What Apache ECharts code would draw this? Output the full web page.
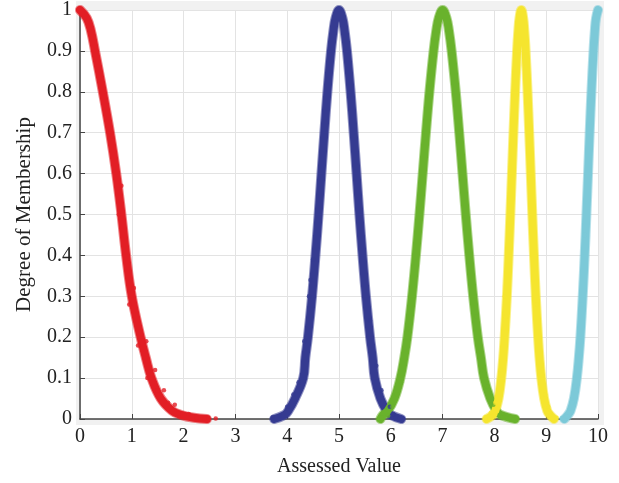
<!DOCTYPE html>
<html>
<head>
<meta charset="utf-8">
<script src="https://cdn.jsdelivr.net/npm/echarts@6/dist/echarts.min.js"></script>
<style>html,body{margin:0;padding:0;background:#fff}#c{width:619px;height:483px}</style>
</head>
<body>
<div id="c"></div>
<script>
// ---- data ----
var xTicks = [0,1,2,3,4,5,6,7,8,9,10];
var yTicks = [0,0.1,0.2,0.3,0.4,0.5,0.6,0.7,0.8,0.9,1];
var xLabel = 'Assessed Value';
var yLabel = 'Degree of Membership';

var redCurve = [[0,1],[0.13,0.98],[0.21,0.95],[0.29,0.9],[0.44,0.8],[0.58,0.7],[0.7,0.6],[0.8,0.5],[0.89,0.4],[1.0,0.3],[1.17,0.2],[1.27,0.15],[1.38,0.1],[1.56,0.05],[1.78,0.02],[1.95,0.01],[2.2,0.003],[2.45,0]];
var blueCurve = [[3.75,0],[3.95,0.01],[4.02,0.02],[4.15,0.05],[4.31,0.1],[4.35,0.15],[4.40,0.2],[4.48,0.3],[4.546,0.4],[4.606,0.5],[4.661,0.6],[4.717,0.7],[4.776,0.8],[4.846,0.9],[4.893,0.95],[4.933,0.98],[5,1],[5.067,0.98],[5.107,0.95],[5.154,0.9],[5.224,0.8],[5.283,0.7],[5.339,0.6],[5.394,0.5],[5.454,0.4],[5.52,0.3],[5.6,0.2],[5.65,0.15],[5.69,0.1],[5.8,0.05],[5.92,0.02],[6.0,0.01],[6.2,0]];
var greenCurve = [[5.8,0],[5.85,0.01],[5.94,0.02],[6.07,0.05],[6.185,0.1],[6.26,0.15],[6.32,0.2],[6.41,0.3],[6.485,0.4],[6.553,0.5],[6.616,0.6],[6.679,0.7],[6.746,0.8],[6.826,0.9],[6.878,0.95],[6.924,0.98],[7,1],[7.076,0.98],[7.122,0.95],[7.174,0.9],[7.254,0.8],[7.321,0.7],[7.384,0.6],[7.447,0.5],[7.515,0.4],[7.59,0.3],[7.68,0.2],[7.74,0.15],[7.8,0.1],[7.92,0.05],[8.04,0.02],[8.12,0.01],[8.4,0]];
var yellowCurve = [[7.85,0],[7.97,0.01],[8.017,0.02],[8.08,0.05],[8.134,0.1],[8.17,0.15],[8.197,0.2],[8.241,0.3],[8.276,0.4],[8.308,0.5],[8.338,0.6],[8.368,0.7],[8.40,0.8],[8.437,0.9],[8.462,0.95],[8.484,0.98],[8.52,1],[8.556,0.98],[8.578,0.95],[8.603,0.9],[8.64,0.8],[8.672,0.7],[8.702,0.6],[8.732,0.5],[8.764,0.4],[8.799,0.3],[8.843,0.2],[8.87,0.15],[8.906,0.1],[8.96,0.05],[9.02,0.02],[9.07,0.01],[9.15,0]];
var cyanCurve = [[9.35,0],[9.42,0.01],[9.47,0.02],[9.535,0.05],[9.592,0.1],[9.63,0.15],[9.66,0.2],[9.705,0.3],[9.743,0.4],[9.776,0.5],[9.808,0.6],[9.839,0.7],[9.873,0.8],[9.913,0.9],[9.939,0.95],[9.962,0.98],[10,1]];

var redDots = [[0.75,0.5],[0.95,0.28],[1.04,0.32],[1.3,0.1],[1.28,0.19],[1.45,0.12],[1.5,0.07],[1.62,0.07],[1.7,0.04],[1.83,0.035],[1.9,0.013],[2.1,0.012],[2.25,0.004],[2.4,0.002],[2.62,0.001],[1.12,0.18],[0.8,0.57],[0.62,0.69]];
var blueDots = [[3.72,0.004],[3.85,0.008],[4.0,0.03],[4.12,0.06],[4.22,0.09],[4.33,0.19],[4.42,0.3],[4.5,0.39],[4.45,0.34],[5.6,0.24],[5.72,0.13],[5.82,0.07],[5.98,0.03],[6.1,0.004],[6.18,0.002],[6.05,0.012]];
var greenDots = [[5.82,0.003],[5.95,0.008],[6.03,0.03],[6.12,0.06],[6.2,0.09],[6.33,0.22],[7.65,0.25],[7.76,0.12],[7.86,0.08],[7.98,0.035],[8.2,0.005],[8.3,0.004],[8.42,0.003],[8.1,0.01]];
var yellowDots = [[7.83,0.004],[7.93,0.015],[8.02,0.04],[8.12,0.12],[8.2,0.3],[8.22,0.25],[8.82,0.28],[8.92,0.12],[8.98,0.06],[9.08,0.015],[9.2,0.003],[9.04,0.03]];
var cyanDots = [[9.3,0.002],[9.4,0.006],[9.5,0.04],[9.56,0.08],[9.62,0.18],[9.68,0.28],[9.74,0.45],[9.45,0.015]];

var colors = {red:'#e21e25', blue:'#353b91', green:'#69b22c', yellow:'#f5e52e', cyan:'#7cc9d8'};

function haloSeries(data, color){
  return {type:'line', data:data, smooth:0.4, showSymbol:false, symbol:'none',
    lineStyle:{color:color, width:10, opacity:0.55, cap:'round', join:'round'}, z:1, silent:true};
}
function curveSeries(data, color){
  return {type:'line', data:data, smooth:0.4, showSymbol:false, symbol:'none',
    lineStyle:{color:color, width:8, cap:'round', join:'round'}, z:2, silent:true};
}
function dotSeries(data, color){
  return {type:'scatter', data:data, symbolSize:4.5, itemStyle:{color:color}, z:3, silent:true};
}

var chart = echarts.init(document.getElementById('c'), null, {renderer:'canvas'});
var fontFam = '"Liberation Serif", "DejaVu Serif", serif';
var all = [['red',redCurve,redDots],['blue',blueCurve,blueDots],['green',greenCurve,greenDots],['yellow',yellowCurve,yellowDots],['cyan',cyanCurve,cyanDots]];
var series = [];
all.forEach(function(s){
  series.push(haloSeries(s[1], colors[s[0]]));
  series.push(curveSeries(s[1], colors[s[0]]));
  series.push(dotSeries(s[2], colors[s[0]]));
});
chart.setOption({
  animation:false,
  backgroundColor:'#ffffff',
  graphic:[{type:'rect', z:-10, shape:{x:76, y:1, width:528, height:424}, style:{fill:'#f1f1f1'}}],
  grid:{left:80, right:21, top:8, bottom:64, show:true, backgroundColor:'#ffffff', borderWidth:0},
  xAxis:{type:'value', min:0, max:10, interval:1,
    name:xLabel, nameLocation:'middle', nameGap:38,
    nameTextStyle:{fontFamily:fontFam, fontSize:20, color:'#222'},
    axisLine:{show:true, onZero:false, lineStyle:{color:'#444', width:1.5}},
    axisTick:{show:true, inside:true, length:5, lineStyle:{color:'#444'}},
    axisLabel:{fontFamily:fontFam, fontSize:20, color:'#222', margin:8,
      formatter:function(v){return xTicks.indexOf(v)>=0 ? String(v) : '';}},
    splitLine:{show:true, lineStyle:{color:'#e3e3e3', width:1}}
  },
  yAxis:{type:'value', min:0, max:1, interval:0.1,
    name:yLabel, nameLocation:'middle', nameGap:45,
    nameTextStyle:{fontFamily:fontFam, fontSize:21, color:'#222'},
    axisLine:{show:true, onZero:false, lineStyle:{color:'#444', width:1.5}},
    axisTick:{show:true, inside:true, length:5, lineStyle:{color:'#444'}},
    axisLabel:{fontFamily:fontFam, fontSize:20, color:'#222', margin:8,
      formatter:function(v){var r=Math.round(v*10)/10; return yTicks.indexOf(r)>=0 ? String(r) : '';}},
    splitLine:{show:true, lineStyle:{color:'#e3e3e3', width:1}}
  },
  series:series
});
</script>
</body>
</html>
